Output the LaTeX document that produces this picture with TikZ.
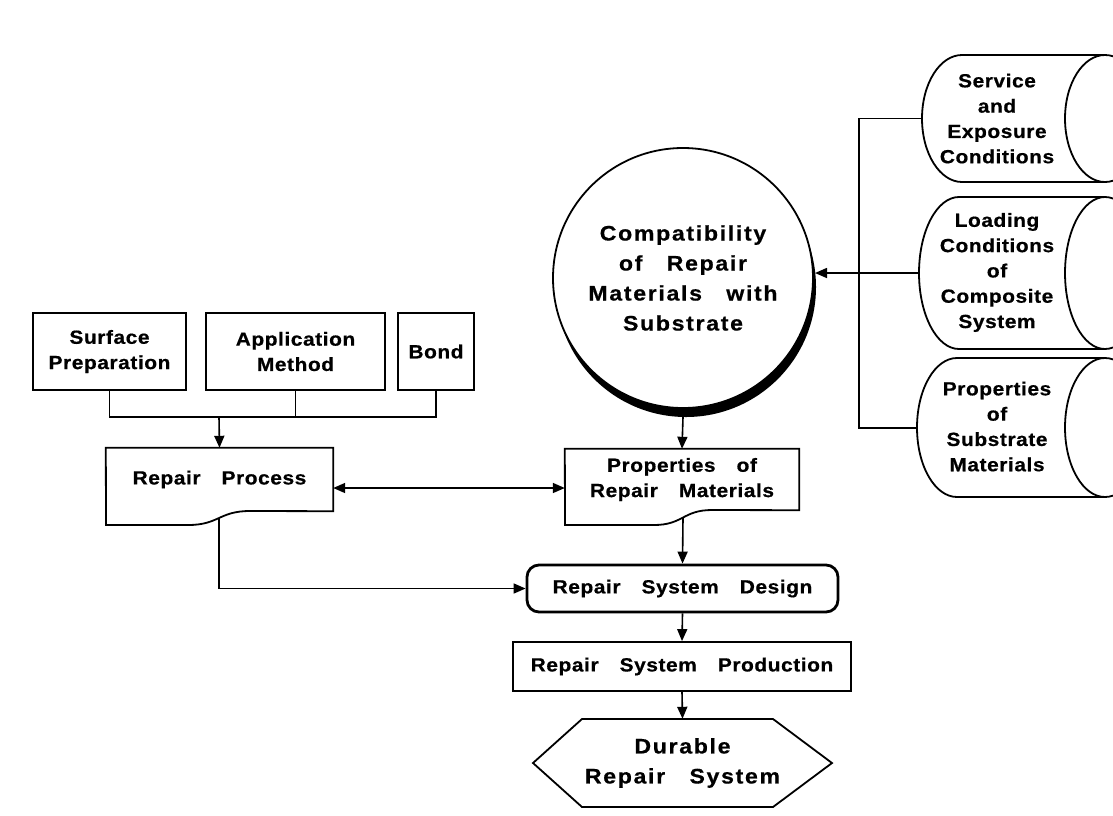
\documentclass[tikz,border=0pt]{standalone}
\usepackage{fontspec}
\setmainfont{Liberation Sans}
\newfontfamily\labA{Liberation Sans}[FakeStretch=1.1,LetterSpace=3,WordSpace=3.3,FakeBold=0.6]
\newfontfamily\labB{Liberation Sans}[FakeStretch=1.1,LetterSpace=8,WordSpace=3.0,FakeBold=0.6]
\usetikzlibrary{arrows.meta,calc}
\begin{document}
\begin{tikzpicture}[x=1pt,y=-1pt,
  fA/.style={font=\labA\bfseries\fontsize{19}{25.3}\selectfont},
  fB/.style={font=\labB\bfseries\fontsize{21}{30}\selectfont},
  box/.style={draw, line width=1.8pt, inner sep=0pt, align=center, fA},
  plain/.style={inner sep=0pt, align=center, fA},
  outline/.style={line width=1.8pt, line join=miter},
  conn/.style={line width=1.6pt},
  arr/.style={conn, -{Triangle[length=12pt,width=10pt]}},
  dbl/.style={conn, {Triangle[length=12pt,width=10pt]}-{Triangle[length=12pt,width=10pt]}},
]
\useasboundingbox[fill=white] (0,0) rectangle (1113,815);

% ---- top input boxes
\node[box, minimum width=153pt, minimum height=77pt] (sp) at (109.5,351.5) {Surface\\Preparation};
\node[box, minimum width=179pt, minimum height=77pt] (am) at (295.5,351.5) {Application\\Method};
\node[box, minimum width=76pt, minimum height=77pt] (bd) at (436,351.5) {Bond};
\coordinate (jn) at (219,417);

% ---- Repair Process (document shape)
\node[plain, minimum width=227pt, minimum height=63pt] (rp) at (219.5,479.5) {Repair Process};
\draw[outline] (rp.north west) -- (rp.north east) -- (rp.south east) -- (250,511)
  .. controls (219,511) and (219,525) .. (188,525) -- (106,525) -- cycle;
\coordinate (rpo) at (219,518);

% ---- Compatibility circle with shadow
\fill (686,287) circle (130pt);
\node[circle, draw, fill=white, line width=1.8pt, minimum size=260pt, inner sep=0pt, align=center, fB] (cp) at (683,278)
  {Compatibility\\of Repair\\Materials with\\Substrate};
\coordinate (cpo) at (683,417);
\coordinate (cpin) at (815,273);

% ---- Properties of Repair Materials (document shape)
\node[plain, minimum width=234pt, minimum height=61pt] (pm) at (682,479.5) {Properties of\\Repair Materials};
\draw[outline] (pm.north west) -- (pm.north east) -- (pm.south east) -- (712,510)
  .. controls (683,510) and (683,525) .. (654,525) -- (565,525) -- cycle;
\coordinate (pmo) at (683,517.5);

% ---- Design / Production / Durable
\node[box, rounded corners=12pt, line width=2.8pt, minimum width=311pt, minimum height=47pt] (rsd) at (682.5,588.5) {Repair System Design};
\node[box, minimum width=338pt, minimum height=49pt] (rsp) at (682,666.5) {Repair System Production};
\node[inner sep=0pt, align=center, fB, minimum height=88pt] (dur) at (682.5,763) {Durable\\Repair System};
\draw[outline] (582,719) -- (773,719) -- (832,763) -- (773,807) -- (582,807) -- (533,763) -- cycle;

% ---- cylinders on the right
\begin{scope}
\clip (0,0) rectangle (1113,815);
\draw[outline] (962,55) -- (1105,55) (962,182) -- (1105,182)
  (962,55) arc[start angle=90, end angle=270, x radius=40pt, y radius=63.5pt]
  (1105,118.5) ellipse[x radius=40pt, y radius=63.5pt];
\draw[outline] (959,197) -- (1105,197) (959,349) -- (1105,349)
  (959,197) arc[start angle=90, end angle=270, x radius=40pt, y radius=76pt]
  (1105,273) ellipse[x radius=40pt, y radius=76pt];
\draw[outline] (957,358) -- (1105,358) (957,497) -- (1105,497)
  (957,358) arc[start angle=90, end angle=270, x radius=40pt, y radius=69.5pt]
  (1105,427.5) ellipse[x radius=40pt, y radius=69.5pt];
\end{scope}
\node[plain] (svc) at (997,118.5) {Service\\and\\Exposure\\Conditions};
\node[plain] (ldc) at (997,272.5) {Loading\\Conditions\\of\\Composite\\System};
\node[plain] (psm) at (997,426.5) {Properties\\of\\Substrate\\Materials};
\coordinate (svcL) at (922,118.5);
\coordinate (ldcL) at (919,273);
\coordinate (psmL) at (917,428);

% ---- connectors
\draw[conn] (sp.south) |- (bd.south |- jn) -- (bd.south);
\draw[conn] (am.south) -- (am.south |- jn);
\draw[arr] (jn) -- (rp.north);
\draw[dbl] ($(rp.east)+(0,8.5)$) -- ($(pm.west)+(0,8.5)$);
\draw[arr] (rpo) |- (rsd.west);
\draw[arr] (cpo) -- (pm.north);
\draw[arr] (pmo) -- (rsd.north);
\draw[arr] (rsd.south) -- (rsp.north);
\draw[arr] (rsp.south) -- (dur.north);
\draw[conn] (svcL) -| ($(psmL)+(-58,0)$) -- (psmL);
\draw[arr] (ldcL) -- (cpin);
\end{tikzpicture}
\end{document}
